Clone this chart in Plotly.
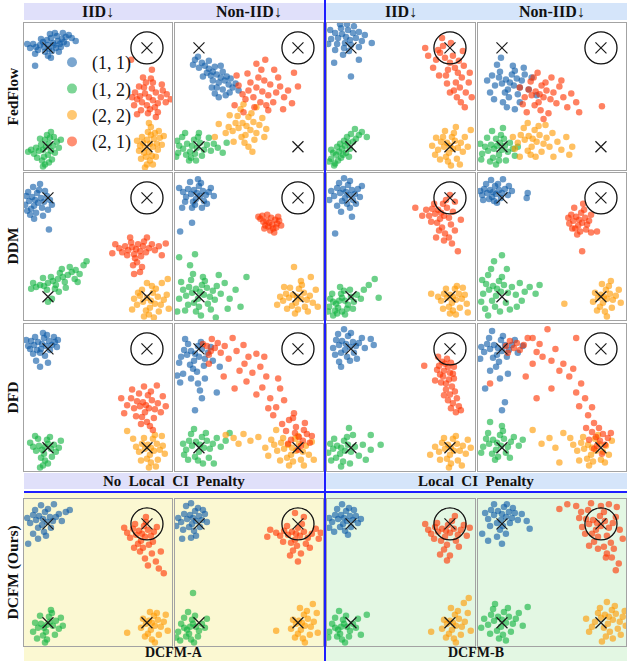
import plotly.graph_objects as go

W, H = 627, 661

# ---------------- data (coordinates in hundredths; (1,1)->(100,100)) ----------------
CLUSTER_NAMES = ["(1, 1)", "(1, 2)", "(2, 2)", "(2, 1)"]
CLUSTER_KEYS = ["b", "g", "o", "r"]
COLORS = ["#0f5ca8", "#12b340", "#ff9a00", "#ff3300"]
CENTERS_X = [100, 100, 200, 200]
CENTERS_Y = [100, 200, 200, 100]
TARGET = (200, 100)

ROW_LABELS = ["FedFlow", "DDM", "DFD", "DCFM (Ours)"]
COL_HEADERS = ["IID↓", "Non-IID↓", "IID↓", "Non-IID↓"]
GROUP_LABELS = ["No Local CI Penalty", "Local CI Penalty"]
BOTTOM_LABELS = ["DCFM-A", "DCFM-B"]

FF_IID_NP = dict(
    b=[(105,95),(100,97),(110,93),(96,99),(114,91),(103,90),(108,100),(92,97),(118,89),(99,92),(106,97),(112,96),(101,101),(95,94),(116,94),(109,88),(88,99),(121,87),(104,103),(97,104),(113,99),(85,96),(124,90),(107,85),(93,91),(102,86),(119,96),(90,102),(111,104),(79,96),(87,106),(128,93),(100,108),(115,85),(82,100),(87,118),(103,110)],
    g=[(98,200),(95,203),(101,197),(93,198),(103,204),(97,193),(100,208),(91,204),(105,199),(96,210),(102,191),(88,201),(107,206),(94,214),(99,188),(86,207),(109,195),(92,192),(104,213),(83,203),(111,201),(97,218),(89,211),(106,190),(101,216),(80,205),(113,193),(103,185),(95,220)],
    o=[(203,197),(200,193),(206,200),(198,201),(207,192),(202,205),(204,188),(196,196),(210,197),(201,185),(205,209),(195,190),(211,203),(199,210),(208,186),(193,199),(213,191),(203,214),(197,206),(209,210),(192,204),(215,198),(200,218),(206,218),(190,194),(212,184),(204,180),(217,189),(202,176),(194,212),(198,221)],
    r=[(202,150),(198,146),(206,153),(195,155),(209,145),(200,158),(205,141),(193,149),(211,156),(197,140),(203,162),(190,152),(214,150),(199,135),(208,160),(188,145),(216,143),(194,163),(206,135),(185,150),(219,155),(201,166),(192,139),(211,165),(187,158),(220,147),(204,131),(196,130),(215,137),(184,112),(205,122),(224,152),(190,167),(209,170)],
)
FF_NIID_NP = dict(
    b=[(118,127),(114,124),(122,130),(110,121),(126,133),(116,119),(120,135),(106,118),(130,137),(112,128),(124,124),(108,125),(128,129),(103,115),(118,140),(134,140),(100,120),(114,133),(122,118),(131,145),(96,112),(124,142),(110,113),(137,136),(104,129),(127,148),(113,140),(99,109),(140,143),(120,150),(94,117),(116,146),(132,131)],
    g=[(93,199),(88,197),(98,201),(84,202),(101,196),(91,205),(95,193),(80,199),(105,203),(87,208),(99,190),(78,194),(108,198),(92,211),(83,190),(112,204),(96,207),(79,206),(103,209),(115,197),(86,186),(119,201),(97,214),(110,191),(77,210),(124,206),(100,186),(90,214),(128,196)],
    o=[(148,179),(144,176),(152,183),(140,181),(155,175),(147,188),(150,170),(137,176),(158,186),(143,190),(153,166),(134,184),(161,178),(146,196),(139,169),(156,193),(130,180),(164,171),(142,162),(150,200),(127,186),(166,190),(135,195),(158,160),(120,177),(145,157),(168,182),(131,168),(154,205),(116,190)],
    r=[(164,144),(158,140),(170,148),(155,150),(172,137),(162,155),(166,133),(150,143),(178,145),(160,130),(168,158),(147,152),(182,139),(156,160),(175,155),(152,135),(186,150),(163,122),(144,147),(180,130),(170,163),(140,138),(190,143),(158,116),(176,122),(149,126),(194,156),(136,158),(185,162),(167,112),(200,139),(145,165),(138,128),(196,125)],
)
FF_IID_LP = dict(
    b=[(95,89),(91,86),(99,92),(87,90),(102,85),(94,95),(97,82),(84,85),(105,90),(90,80),(100,97),(80,91),(108,84),(93,100),(86,96),(103,78),(79,82),(111,93),(89,76),(98,103),(77,96),(114,87),(96,76),(84,102),(108,99),(100,129),(121,95),(108,112),(83,115),(92,107)],
    g=[(91,202),(88,205),(94,199),(85,208),(97,196),(90,211),(93,194),(82,206),(99,202),(87,214),(96,190),(80,212),(102,195),(84,217),(100,187),(92,208),(105,192),(78,215),(89,197),(108,188),(95,206),(83,219),(111,185),(98,210),(86,200),(116,190),(104,182),(80,203)],
    o=[(200,199),(197,196),(203,202),(194,200),(205,194),(199,206),(202,190),(191,195),(208,201),(196,210),(204,186),(188,203),(211,196),(198,215),(193,190),(207,212),(185,208),(213,205),(201,219),(190,213),(215,190),(182,199),(206,180),(218,200),(195,184),(210,218),(221,183),(186,191)],
    r=[(200,115),(195,110),(205,120),(190,105),(208,125),(198,122),(203,108),(186,112),(212,130),(193,98),(206,135),(196,128),(210,140),(188,102),(214,118),(201,95),(216,145),(183,120),(207,150),(192,90),(219,135),(211,155),(178,108),(220,125),(204,143),(197,136),(215,160),(175,100),(209,113),(222,150),(189,128),(200,145),(213,103)],
)
FF_NIID_LP = dict(
    b=[(108,135),(104,132),(112,138),(100,136),(115,131),(106,142),(110,127),(97,130),(118,140),(103,145),(113,123),(93,138),(120,133),(107,150),(98,124),(116,147),(90,128),(123,127),(101,155),(111,118),(88,145),(127,142),(95,117),(118,155),(85,133),(130,130),(105,160),(122,120),(135,148),(92,152),(99,110),(113,162)],
    g=[(95,199),(92,202),(98,196),(89,198),(100,203),(94,192),(97,208),(86,204),(103,199),(91,211),(99,188),(83,200),(106,205),(88,215),(102,192),(80,207),(108,196),(94,218),(85,191),(111,202),(97,214),(78,197),(113,209),(90,184),(104,214),(79,213),(116,200),(101,181)],
    o=[(131,192),(127,189),(135,195),(123,193),(138,188),(130,200),(133,183),(119,188),(142,197),(126,204),(137,179),(116,196),(145,191),(129,208),(122,181),(148,200),(134,210),(113,202),(151,186),(140,205),(118,210),(156,195),(144,178),(160,203),(111,190),(165,190),(152,210),(126,176),(171,200),(168,208)],
    r=[(138,147),(134,144),(142,150),(130,148),(145,143),(137,155),(140,138),(127,142),(149,152),(133,158),(144,135),(123,150),(152,145),(139,163),(129,134),(155,156),(121,157),(158,139),(147,166),(132,130),(162,150),(125,165),(166,160),(150,130),(118,140),(170,146),(142,172),(175,155),(160,133),(201,159),(178,165),(136,125)],
)
DDM_IID_NP = dict(
    b=[(87,102),(84,99),(90,105),(81,103),(93,100),(86,108),(89,95),(78,98),(96,104),(83,111),(91,92),(77,107),(99,98),(85,89),(94,110),(80,94),(102,102),(88,115),(97,93),(79,113),(104,107),(92,86),(82,117),(100,112),(101,132),(95,118),(86,121)],
    g=[(110,182),(105,184),(115,180),(100,186),(120,178),(108,188),(112,176),(96,189),(124,175),(103,180),(117,185),(92,188),(128,173),(107,192),(114,172),(88,190),(132,177),(99,193),(122,170),(85,186),(127,182),(95,181),(136,168),(111,195),(83,192),(139,164),(104,202),(130,185),(118,191),(100,205)],
    o=[(204,204),(200,201),(208,207),(196,205),(211,200),(203,211),(206,196),(193,199),(214,208),(199,214),(209,192),(190,208),(217,203),(202,218),(195,193),(212,215),(187,202),(220,198),(205,189),(197,220),(215,186),(185,213),(222,212),(207,221),(191,196),(221,182),(200,186)],
    r=[(189,152),(185,150),(193,154),(181,153),(196,149),(187,157),(191,147),(178,149),(199,155),(184,145),(194,159),(175,155),(202,151),(188,161),(180,158),(205,147),(197,144),(172,151),(190,165),(208,153),(186,168),(168,147),(212,149),(193,175),(200,140),(183,140),(215,158),(187,177),(165,156),(219,146),(195,170)],
)
DDM_NIID_NP = dict(
    b=[(98,95),(95,92),(101,98),(92,96),(104,93),(97,101),(100,88),(89,91),(107,97),(94,104),(102,85),(87,99),(110,94),(96,107),(91,84),(105,103),(84,94),(112,90),(99,81),(93,110),(108,106),(86,104),(103,110),(80,90),(93,125),(81,134),(83,110),(115,98)],
    g=[(101,195),(97,192),(105,198),(93,196),(108,191),(99,202),(103,188),(90,190),(111,200),(95,206),(106,184),(87,199),(114,194),(100,210),(92,183),(109,207),(84,193),(118,189),(97,215),(89,208),(116,203),(104,180),(80,202),(122,197),(94,177),(112,213),(82,185),(126,186),(102,219),(86,214),(131,202),(91,168),(120,178),(137,193),(80,160),(96,157),(142,210),(78,215),(129,212),(117,221),(148,180)],
    o=[(199,200),(195,198),(203,202),(191,201),(206,196),(198,206),(201,192),(188,197),(209,203),(194,209),(204,188),(185,204),(212,199),(200,213),(192,191),(207,210),(182,200),(215,206),(197,217),(189,212),(218,193),(203,184),(186,190),(220,210),(210,215),(196,170),(213,180),(179,208)],
    r=[(171,125),(168,123),(174,127),(165,124),(177,122),(170,129),(173,120),(162,121),(179,126),(167,128),(175,131),(160,119),(181,123),(172,133),(164,118),(178,130),(169,117),(183,128),(176,135),(166,131),(180,119)],
)
DDM_IID_LP = dict(
    b=[(95,94),(92,91),(98,97),(89,95),(101,92),(94,100),(97,87),(86,90),(104,96),(91,103),(99,83),(83,98),(107,91),(96,106),(88,85),(102,102),(80,93),(109,99),(93,80),(86,108),(105,106),(99,110),(78,102),(111,88),(90,114),(84,136),(101,119)],
    g=[(88,204),(85,207),(91,201),(82,205),(94,204),(87,211),(90,197),(79,202),(97,208),(84,214),(93,194),(78,210),(100,200),(86,217),(96,212),(81,197),(103,205),(91,215),(99,193),(77,215),(106,198),(89,190),(110,202),(94,218),(113,193),(118,188),(102,212),(124,182),(128,201),(82,219)],
    o=[(203,200),(200,198),(206,203),(197,201),(209,197),(202,206),(205,192),(194,197),(212,202),(199,210),(207,189),(191,204),(215,198),(203,214),(196,192),(210,211),(188,200),(217,207),(200,217),(193,212),(213,191),(181,197),(206,218),(218,216)],
    r=[(191,115),(188,112),(194,118),(185,116),(197,110),(190,121),(193,106),(182,111),(199,120),(187,125),(196,102),(179,118),(201,127),(192,130),(200,97),(184,106),(203,114),(195,136),(176,112),(189,133),(205,104),(199,140),(172,118),(202,146),(181,124),(208,154),(194,143),(165,110),(205,133),(186,140),(211,122)],
)
DDM_NIID_LP = dict(
    b=[(91,94),(88,92),(94,96),(85,95),(97,92),(90,99),(93,88),(82,91),(100,95),(87,101),(96,86),(80,97),(103,91),(92,103),(84,86),(99,100),(78,93),(106,97),(89,82),(95,105),(107,88),(81,102),(101,81),(110,93),(126,95),(125,100)],
    g=[(95,192),(91,189),(99,195),(87,193),(102,188),(94,199),(97,184),(84,187),(106,196),(90,204),(100,180),(81,197),(110,190),(93,210),(86,178),(104,206),(79,205),(114,198),(98,215),(89,172),(118,186),(83,212),(108,213),(123,195),(92,164),(100,158),(128,190),(80,183),(115,210),(134,197),(138,188),(105,172),(86,219),(120,204)],
    o=[(203,200),(200,198),(206,202),(197,201),(209,197),(202,206),(205,193),(194,196),(212,203),(199,210),(208,189),(196,214),(215,199),(204,215),(192,205),(211,211),(218,193),(201,187),(206,220),(220,206),(163,207),(210,184)],
    r=[(178,122),(175,119),(181,125),(172,123),(184,120),(177,128),(180,115),(170,117),(186,127),(174,131),(183,112),(168,126),(188,123),(179,134),(173,110),(185,132),(167,120),(190,117),(176,137),(182,106),(196,134),(181,154),(190,135),(171,131)],
)
DFD_IID_NP = dict(
    b=[(94,95),(90,93),(98,97),(86,96),(101,92),(93,100),(96,89),(83,92),(104,96),(89,101),(99,86),(80,97),(107,93),(92,104),(87,88),(102,101),(78,91),(109,98),(95,84),(85,105),(106,88),(97,107),(82,100),(110,91),(92,118),(88,112),(100,114)],
    g=[(97,199),(94,202),(100,196),(91,198),(103,201),(96,206),(99,192),(88,203),(106,197),(93,210),(102,189),(85,199),(108,204),(97,213),(90,191),(104,209),(82,195),(111,200),(95,218),(87,188),(113,193),(100,216),(92,220)],
    o=[(204,200),(201,197),(207,203),(198,201),(210,196),(203,207),(206,191),(195,196),(213,202),(200,211),(208,187),(192,204),(216,198),(204,215),(197,190),(211,212),(189,199),(218,206),(202,220),(194,213),(215,188),(186,191),(209,219),(180,183)],
    r=[(199,157),(196,154),(202,160),(193,158),(205,152),(198,164),(201,147),(190,153),(208,161),(195,169),(204,143),(187,160),(211,155),(200,174),(192,145),(207,170),(184,150),(214,164),(197,138),(189,168),(216,148),(203,178),(180,157),(210,137),(194,176),(219,158),(185,141),(174,150),(206,182),(177,165)],
)
DFD_NIID_NP = dict(
    b=[(96,105),(92,102),(100,108),(88,106),(103,100),(95,112),(99,97),(85,101),(106,110),(91,116),(102,93),(82,108),(109,104),(94,120),(89,95),(105,117),(80,114),(112,98),(98,123),(86,90),(114,112),(101,142),(103,150),(96,162),(81,134),(118,144),(92,130),(84,125),(106,130),(121,118),(78,127),(99,135)],
    g=[(101,197),(97,194),(105,200),(93,198),(108,193),(100,204),(103,189),(90,193),(111,201),(96,209),(107,185),(87,202),(114,196),(99,213),(92,186),(110,210),(84,196),(118,190),(104,216),(89,212),(122,199),(95,181),(127,193),(131,185),(115,216),(85,207)],
    o=[(194,200),(190,197),(198,203),(186,201),(201,196),(193,207),(197,191),(183,195),(205,204),(189,210),(200,188),(179,203),(208,198),(195,214),(185,190),(203,212),(176,197),(211,207),(191,218),(173,192),(214,194),(182,213),(206,218),(167,200),(127,187),(135,190),(145,186),(152,193),(160,189),(140,196),(170,208),(178,182),(216,212)],
    r=[(108,97),(112,102),(104,95),(116,99),(110,106),(119,94),(113,90),(122,104),(126,97),(134,89),(130,110),(138,102),(141,122),(146,115),(150,108),(158,105),(154,124),(148,133),(162,118),(164,139),(158,146),(168,128),(172,150),(178,159),(170,160),(182,140),(175,167),(186,152),(191,172),(184,176),(196,165),(188,183),(201,189),(197,185),(205,193),(193,192),(209,186),(203,198),(198,179),(212,195),(206,182),(190,196),(214,188),(200,202),(207,175),(195,170),(110,115),(125,128),(136,140),(180,130),(145,96),(166,108)],
)
DFD_IID_LP = dict(
    b=[(95,95),(91,92),(99,98),(88,96),(102,93),(94,101),(97,87),(85,91),(105,97),(90,104),(100,84),(82,99),(108,94),(96,108),(87,85),(103,104),(111,89),(93,80),(99,112),(84,106),(114,99),(120,90),(123,96),(90,118),(88,113),(106,110)],
    g=[(90,200),(86,198),(94,203),(82,201),(97,197),(89,206),(93,193),(79,196),(100,204),(85,210),(96,189),(77,205),(104,199),(92,214),(83,191),(108,208),(99,216),(80,213),(112,197),(102,187),(120,202),(130,197),(115,212),(90,219),(98,180),(120,187)],
    o=[(201,200),(198,197),(204,203),(195,201),(207,196),(200,207),(203,191),(192,195),(210,203),(197,211),(206,188),(189,204),(213,198),(201,216),(194,190),(208,213),(185,199),(216,206),(199,220),(190,212),(218,192),(180,207),(212,218),(221,200)],
    r=[(195,115),(192,113),(198,118),(189,117),(201,114),(194,122),(197,110),(187,121),(203,125),(193,128),(199,131),(191,134),(202,138),(196,141),(200,146),(205,143),(198,152),(203,155),(207,150),(201,160),(209,158),(206,164),(211,162),(190,126),(196,135),(204,130),(174,117),(185,132),(188,108),(200,124),(204,118),(194,147)],
)
DFD_NIID_LP = dict(
    b=[(96,99),(92,96),(100,102),(88,100),(103,96),(95,106),(99,91),(85,95),(107,101),(91,109),(101,87),(82,103),(110,96),(97,113),(87,89),(105,108),(79,98),(113,91),(94,118),(90,82),(116,104),(121,97),(103,154),(100,162),(83,140),(98,130),(106,125),(88,122),(78,110)],
    g=[(95,195),(91,192),(99,198),(87,196),(102,191),(94,202),(98,187),(84,191),(106,199),(90,206),(101,183),(81,199),(109,194),(96,209),(86,185),(104,205),(79,205),(112,189),(93,212),(100,178),(117,198),(88,174),(121,192),(108,210)],
    o=[(191,200),(187,197),(195,203),(183,201),(198,196),(190,207),(194,191),(180,195),(202,204),(186,211),(197,187),(176,203),(205,198),(192,214),(182,189),(200,212),(172,197),(208,207),(188,218),(169,190),(211,193),(178,213),(148,190),(158,215),(131,182),(140,196),(162,185),(154,200),(204,215)],
    r=[(104,97),(108,92),(112,99),(106,104),(115,94),(118,101),(122,96),(126,89),(131,89),(135,103),(138,95),(131,115),(141,108),(146,80),(150,112),(158,122),(154,100),(162,115),(175,89),(168,128),(175,144),(172,120),(180,135),(184,150),(178,158),(191,159),(187,167),(193,175),(195,189),(191,184),(199,193),(196,198),(202,186),(188,192),(204,197),(198,180),(207,190),(193,201),(201,206),(210,185),(185,180),(88,135),(135,150),(124,128),(150,140)],
)
DCFM_IID_A = dict(
    b=[(95,95),(91,92),(99,98),(88,96),(102,93),(94,101),(97,88),(85,91),(105,97),(90,104),(100,85),(82,99),(108,93),(96,108),(87,86),(103,104),(79,94),(111,90),(93,81),(85,110),(114,97),(98,112),(80,120),(118,88),(122,86),(106,80),(90,115)],
    g=[(99,202),(96,205),(102,199),(93,201),(105,203),(98,209),(101,194),(90,205),(108,198),(95,213),(104,190),(87,200),(111,206),(99,217),(92,193),(107,212),(85,209),(113,195),(103,187),(89,216),(115,203),(97,220)],
    o=[(205,200),(202,198),(208,203),(199,201),(211,197),(204,207),(207,193),(196,196),(214,204),(201,211),(210,190),(198,214),(217,199),(205,217),(194,205),(212,212),(219,192),(203,189),(221,208),(180,210),(208,220)],
    r=[(195,110),(192,107),(198,113),(189,111),(201,106),(194,117),(197,102),(186,105),(204,112),(191,120),(199,98),(183,114),(207,108),(196,124),(188,100),(202,121),(180,109),(210,103),(193,128),(205,130),(209,138),(212,145),(198,135),(214,128),(201,142),(217,150),(206,118),(187,124),(177,104),(199,93)],
)
DCFM_NIID_A = dict(
    b=[(94,94),(91,91),(97,97),(88,95),(100,92),(93,100),(96,87),(85,90),(103,96),(90,103),(99,84),(82,98),(106,90),(95,107),(87,82),(101,103),(79,94),(108,98),(92,79),(84,106),(104,86),(97,112),(77,102),(83,115),(92,114)],
    g=[(91,204),(88,207),(94,201),(85,205),(97,204),(90,211),(93,197),(82,201),(100,208),(87,214),(96,193),(79,209),(103,201),(92,217),(85,195),(99,214),(77,215),(106,205),(89,189),(108,196),(95,220),(94,170),(81,218)],
    o=[(204,200),(201,198),(207,203),(198,201),(210,196),(203,207),(206,192),(195,197),(213,204),(200,211),(209,188),(197,215),(216,199),(205,216),(193,206),(212,212),(219,190),(202,185),(207,220),(215,181),(178,208),(220,210)],
    r=[(198,110),(194,108),(202,112),(190,111),(206,108),(197,116),(200,104),(186,107),(210,114),(193,119),(204,100),(182,112),(214,110),(199,122),(189,102),(208,120),(178,109),(218,105),(195,127),(212,124),(185,118),(221,115),(203,130),(172,106),(192,132),(206,93),(197,89),(169,113),(223,109),(200,138)],
)
DCFM_IID_B = dict(
    b=[(93,94),(90,91),(96,97),(87,95),(99,92),(92,100),(95,87),(84,91),(102,96),(89,103),(98,84),(81,98),(105,92),(94,107),(86,85),(100,103),(78,94),(107,99),(91,80),(83,108),(103,86),(97,111),(110,95),(78,104)],
    g=[(90,204),(87,207),(93,201),(84,205),(96,204),(89,211),(92,197),(81,201),(99,208),(86,214),(95,193),(78,209),(102,201),(91,217),(84,195),(98,214),(77,215),(105,205),(88,188),(107,196),(116,192),(94,220),(110,212)],
    o=[(203,200),(200,198),(206,203),(197,201),(209,196),(202,207),(205,192),(194,197),(212,204),(199,211),(208,188),(196,215),(215,199),(204,216),(192,206),(211,212),(218,190),(201,185),(206,220),(214,180),(181,209),(219,175),(221,208)],
    r=[(196,107),(192,105),(200,109),(188,108),(204,105),(195,113),(198,101),(185,103),(208,111),(191,117),(202,97),(181,110),(211,106),(197,121),(187,99),(206,117),(178,106),(214,101),(194,126),(209,123),(184,115),(217,112),(200,132),(175,100),(190,131),(205,92),(220,104),(197,137)],
)
DCFM_NIID_B = dict(
    b=[(100,90),(96,87),(104,93),(92,91),(107,88),(99,96),(102,83),(89,86),(110,94),(95,99),(105,80),(86,95),(113,89),(101,102),(92,80),(108,99),(83,89),(116,96),(98,106),(88,102),(111,84),(120,90),(125,97),(80,110),(95,113),(104,110),(128,105),(86,117),(100,120)],
    g=[(100,197),(96,194),(104,200),(92,198),(107,194),(99,204),(102,189),(89,192),(111,201),(95,208),(106,185),(86,202),(114,196),(101,212),(91,186),(109,209),(82,196),(117,190),(97,216),(88,211),(121,203),(79,205),(126,184),(104,218),(93,181)],
    o=[(208,194),(204,192),(212,197),(200,195),(215,191),(207,201),(211,187),(197,190),(219,199),(203,205),(214,183),(194,199),(222,194),(209,209),(199,185),(217,206),(191,204),(224,188),(205,214),(212,216),(188,209),(220,212),(201,219),(206,179),(185,196),(225,203)],
    r=[(196,99),(192,96),(200,102),(188,100),(204,97),(195,106),(199,92),(185,95),(208,104),(191,110),(203,88),(181,103),(212,99),(197,113),(187,86),(206,112),(178,94),(215,93),(193,118),(210,119),(184,110),(219,106),(200,82),(190,79),(208,80),(175,82),(166,80),(158,85),(203,123),(197,125),(206,130),(211,134),(205,134),(215,147),(218,140),(213,125),(222,115),(188,122),(180,88),(216,83)],
)

PANELS = [
    [FF_IID_NP, FF_NIID_NP, FF_IID_LP, FF_NIID_LP],
    [DDM_IID_NP, DDM_NIID_NP, DDM_IID_LP, DDM_NIID_LP],
    [DFD_IID_NP, DFD_NIID_NP, DFD_IID_LP, DFD_NIID_LP],
    [DCFM_IID_A, DCFM_NIID_A, DCFM_IID_B, DCFM_NIID_B],
]

# ---------------- layout geometry (pixels) ----------------
COL_PX = [(24, 172), (175, 323), (327, 475), (478, 626)]
ROW_PX = [(23, 170), (173, 320), (324, 471), (499, 646)]
X_RANGE = [75.8, 225.3]
Y_RANGE = [223.5, 74.8]
CIRCLE_R = 16.2

def fx(px):
    return px / W

def fy(py):
    return 1 - py / H

fig = go.Figure()
layout_axes = {}
shapes = []
annotations = []

SERIF = "Liberation Serif"

for r in range(4):
    for c in range(4):
        n = r * 4 + c + 1
        xa = "x" if n == 1 else f"x{n}"
        ya = "y" if n == 1 else f"y{n}"
        xname = "xaxis" if n == 1 else f"xaxis{n}"
        yname = "yaxis" if n == 1 else f"yaxis{n}"
        axstyle = dict(showticklabels=False, showgrid=False, zeroline=False, ticks="",
                       showline=True, mirror=True, linecolor="#a3a3a3", linewidth=1.4,
                       fixedrange=True)
        layout_axes[xname] = dict(domain=[fx(COL_PX[c][0]), fx(COL_PX[c][1])],
                                  range=X_RANGE, anchor=ya, **axstyle)
        layout_axes[yname] = dict(domain=[fy(ROW_PX[r][1]), fy(ROW_PX[r][0])],
                                  range=Y_RANGE, anchor=xa, **axstyle)
        panel = PANELS[r][c]
        for k, key in enumerate(CLUSTER_KEYS):
            pts = panel[key]
            fig.add_trace(go.Scatter(
                x=[p[0] for p in pts], y=[p[1] for p in pts], mode="markers",
                xaxis=xa, yaxis=ya, showlegend=False, hoverinfo="skip",
                marker=dict(size=6.5, color=COLORS[k], opacity=0.62, line=dict(width=0)),
            ))
        fig.add_trace(go.Scatter(
            x=CENTERS_X, y=CENTERS_Y, mode="markers", xaxis=xa, yaxis=ya,
            showlegend=False, hoverinfo="skip",
            marker=dict(symbol="x-thin", size=11, color="#1a1a1a",
                        line=dict(width=1.2, color="#1a1a1a")),
        ))
        shapes.append(dict(type="circle", xref=xa, yref=ya,
                           x0=TARGET[0] - CIRCLE_R, x1=TARGET[0] + CIRCLE_R,
                           y0=TARGET[1] - CIRCLE_R, y1=TARGET[1] + CIRCLE_R,
                           line=dict(color="#111111", width=1.3)))

# legend entries
for k, name in enumerate(CLUSTER_NAMES):
    fig.add_trace(go.Scatter(x=[None], y=[None], mode="markers", name=name,
                             marker=dict(size=10, color=COLORS[k], opacity=0.55)))

# ---------------- bands ----------------
TOP_BAND = (3, 20)
MID_BAND = (473, 489)
LOW_BG = (493, 661)
BAND_COLORS_L = ["#e0e0fa", "#e0e0fa", "#fbf8d2"]
BAND_COLORS_R = ["#d5e5fa", "#d5e5fa", "#e3f7e3"]
for (y0, y1), cl, cr in zip([TOP_BAND, MID_BAND, LOW_BG], BAND_COLORS_L, BAND_COLORS_R):
    shapes.append(dict(type="rect", xref="paper", yref="paper", layer="below",
                       x0=fx(24), x1=fx(324), y0=fy(y1), y1=fy(y0),
                       fillcolor=cl, line=dict(width=0)))
    shapes.append(dict(type="rect", xref="paper", yref="paper", layer="below",
                       x0=fx(326), x1=fx(627), y0=fy(y1), y1=fy(y0),
                       fillcolor=cr, line=dict(width=0)))

# blue separators
shapes.append(dict(type="line", xref="paper", yref="paper", x0=fx(325), x1=fx(325),
                   y0=0, y1=1, line=dict(color="#1e1eff", width=2)))
shapes.append(dict(type="line", xref="paper", yref="paper", x0=fx(24), x1=1,
                   y0=fy(492), y1=fy(492), line=dict(color="#1e1eff", width=2)))

# ---------------- text ----------------
def label(text, xpx, ypx, size, angle=0):
    annotations.append(dict(text=text, xref="paper", yref="paper",
                            x=fx(xpx), y=fy(ypx), xanchor="center", yanchor="middle",
                            textangle=angle, showarrow=False,
                            font=dict(family=SERIF, size=size, color="#111")))

for c, t in enumerate(COL_HEADERS):
    label(f"<b>{t}</b>", (COL_PX[c][0] + COL_PX[c][1]) / 2, 11.5, 16)
for r, t in enumerate(ROW_LABELS):
    label(f"<b>{t}</b>", 12, (ROW_PX[r][0] + ROW_PX[r][1]) / 2, 15.5, -90)
for i, t in enumerate(GROUP_LABELS):
    x0, x1 = (24, 324) if i == 0 else (326, 627)
    label("<b>" + t.replace(" ", "&nbsp; ") + "</b>", (x0 + x1) / 2, 481, 15)
for i, t in enumerate(BOTTOM_LABELS):
    x0, x1 = (24, 324) if i == 0 else (326, 627)
    label(f"<b>{t}</b>", (x0 + x1) / 2, 652.5, 14)

fig.update_layout(
    width=W, height=H, margin=dict(l=0, r=0, t=0, b=0),
    paper_bgcolor="white", plot_bgcolor="white",
    shapes=shapes, annotations=annotations,
    showlegend=True,
    legend=dict(x=fx(52), y=fy(44), xanchor="left", yanchor="top",
                bgcolor="rgba(0,0,0,0)", borderwidth=0,
                font=dict(family=SERIF, size=18, color="#111"),
                itemwidth=30),
    **layout_axes,
)

fig.write_html(
    "out.html",
    config={"displayModeBar": False},
    post_script="document.body.style.margin='0';document.body.style.overflow='hidden';",
)
